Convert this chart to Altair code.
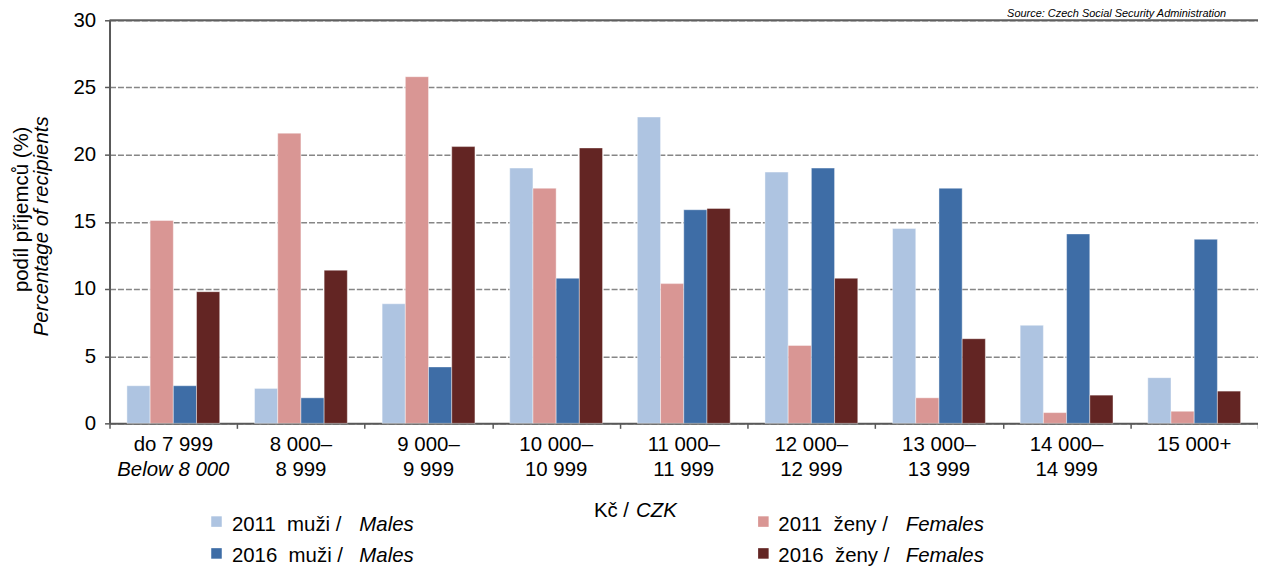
import altair as alt
import pandas as pd

# ---------------- data ----------------
cat_line1 = ["do 7 999", "8 000–", "9 000–", "10 000–", "11 000–",
             "12 000–", "13 000–", "14 000–", "15 000+"]
cat_line2 = ["Below 8 000", "8 999", "9 999", "10 999", "11 999",
             "12 999", "13 999", "14 999", ""]
cat_line2_italic = [True, False, False, False, False, False, False, False, False]

series = ["2011 muži", "2011 ženy", "2016 muži", "2016 ženy"]
series_label_cz = ["2011\u00a0 muži /", "2011\u00a0 ženy /", "2016\u00a0 muži /", "2016\u00a0 ženy /"]
series_label_en = ["Males", "Females", "Males", "Females"]
colors = ["#aec4e1", "#d99694", "#3e6da6", "#632523"]

m2011 = [2.8, 2.6, 8.9, 19.0, 22.8, 18.7, 14.5, 7.3, 3.4]
f2011 = [15.1, 21.6, 25.8, 17.5, 10.4, 5.8, 1.9, 0.8, 0.9]
m2016 = [2.8, 1.9, 4.2, 10.8, 15.9, 19.0, 17.5, 14.1, 13.7]
f2016 = [9.8, 11.4, 20.6, 20.5, 16.0, 10.8, 6.3, 2.1, 2.4]

y_ticks = [0, 5, 10, 15, 20, 25, 30]

# ---------------- tables ----------------
values = [m2011, f2011, m2016, f2016]
rows = []
for s, vals in zip(series, values):
    for c, v in zip(cat_line1, vals):
        rows.append({"cat": c, "series": s, "value": v})
df = pd.DataFrame(rows)

cat_df = pd.DataFrame({"cat": cat_line1, "line1": cat_line1,
                       "line2": cat_line2, "italic": cat_line2_italic})
leg_df = pd.DataFrame({"series": series, "cz": series_label_cz, "en": series_label_en})

FONT = "Liberation Sans"
AXC = "#595959"
FS = 20.5

color_scale = alt.Scale(domain=series, range=colors)
x_enc = alt.X("cat:N", sort=cat_line1,
              scale=alt.Scale(paddingInner=0, paddingOuter=0),
              axis=alt.Axis(labels=False, title=None, tickBand="extent",
                            ticks=True, tickSize=5, tickWidth=1.5, tickColor=AXC,
                            domainColor=AXC, domainWidth=2, grid=False))

bars = alt.Chart(df).mark_bar(stroke="white", strokeWidth=0.6, strokeOpacity=0.7).encode(
    x=x_enc,
    xOffset=alt.XOffset("series:N", sort=series,
                        scale=alt.Scale(paddingInner=0, paddingOuter=0.75)),
    y=alt.Y("value:Q", scale=alt.Scale(domain=[0, 30], nice=False),
            axis=alt.Axis(values=y_ticks, title=None, grid=True,
                          gridDash=[6, 2], gridColor="#868686", gridWidth=1.5,
                          domainColor=AXC, domainWidth=2,
                          tickColor=AXC, tickSize=5, tickWidth=1.5,
                          labelFontSize=FS, labelColor="black", labelPadding=9,
                          labelFont=FONT)),
    color=alt.Color("series:N", scale=color_scale, legend=None),
)

top_rule = alt.Chart(pd.DataFrame({"v": [y_ticks[-1]]})).mark_rule(
    color="#5f5f5f", strokeWidth=2).encode(y=alt.Y("v:Q"))

x_plain = alt.X("cat:N", sort=cat_line1)
lab1 = alt.Chart(cat_df).mark_text(fontSize=FS, font=FONT, baseline="alphabetic",
                                   color="black").encode(
    x=x_plain, y=alt.value(432.7), text="line1:N")
lab2 = alt.Chart(cat_df).transform_filter("!datum.italic").mark_text(
    fontSize=FS, font=FONT, baseline="alphabetic", color="black").encode(
    x=x_plain, y=alt.value(457.7), text="line2:N")
lab2i = alt.Chart(cat_df).transform_filter("datum.italic").mark_text(
    fontSize=FS, font=FONT, baseline="alphabetic", fontStyle="italic",
    color="black").encode(x=x_plain, y=alt.value(457.7), text="line2:N")

def txt(t, x, y, align="left", italic=False, size=FS, angle=None, baseline="alphabetic"):
    kw = dict(text=t, fontSize=size, font=FONT, align=align, baseline=baseline, color="black")
    if italic:
        kw["fontStyle"] = "italic"
    if angle is not None:
        kw["angle"] = angle
    return alt.Chart(pd.DataFrame({"a": [0]})).mark_text(**kw).encode(
        x=alt.value(x), y=alt.value(y))

layers = [bars, top_rule, lab1, lab2, lab2i]

# y axis title (two lines, second italic)
layers.append(txt("podíl příjemců (%)", -88, 190, align="center", angle=270, baseline="middle"))
layers.append(txt("Percentage of recipients", -68, 207, align="center", angle=270,
                  baseline="middle", italic=True))
# x axis title
layers.append(txt("Kč /", 522, 498.7, align="right"))
layers.append(txt("CZK", 529, 498.7, italic=True))
# source
layers.append(txt("Source: Czech Social Security Administration", 1122, -3,
                  align="right", italic=True, size=11))

# legend
leg_pos = [(107.5, 503.7, 123, 512.7, 251),
           (657, 503.7, 672, 512.7, 800),
           (107.5, 535.7, 123, 544.7, 251),
           (657, 535.7, 672, 544.7, 800)]
for s, (sx, sy, tx, ty, ix) in zip(series, leg_pos):
    base = alt.Chart(leg_df).transform_filter(alt.datum.series == s)
    layers.append(base.mark_square(size=112, opacity=1).encode(
        x=alt.value(sx), y=alt.value(sy),
        color=alt.Color("series:N", scale=color_scale, legend=None)))
    layers.append(base.mark_text(fontSize=FS, font=FONT, align="left",
                                 baseline="alphabetic", color="black").encode(
        x=alt.value(tx), y=alt.value(ty), text="cz:N"))
    layers.append(base.mark_text(fontSize=FS, font=FONT, align="left",
                                 baseline="alphabetic", fontStyle="italic",
                                 color="black").encode(
        x=alt.value(ix), y=alt.value(ty), text="en:N"))

chart = alt.layer(*layers).properties(
    width=1154, height=405,
    padding={"left": 102, "top": 11, "right": 0, "bottom": 144},
    autosize=alt.AutoSizeParams(type="none"),
).configure_view(stroke=None).configure(font=FONT)

chart.save("out.html", embed_options={"renderer": "svg", "actions": False})
